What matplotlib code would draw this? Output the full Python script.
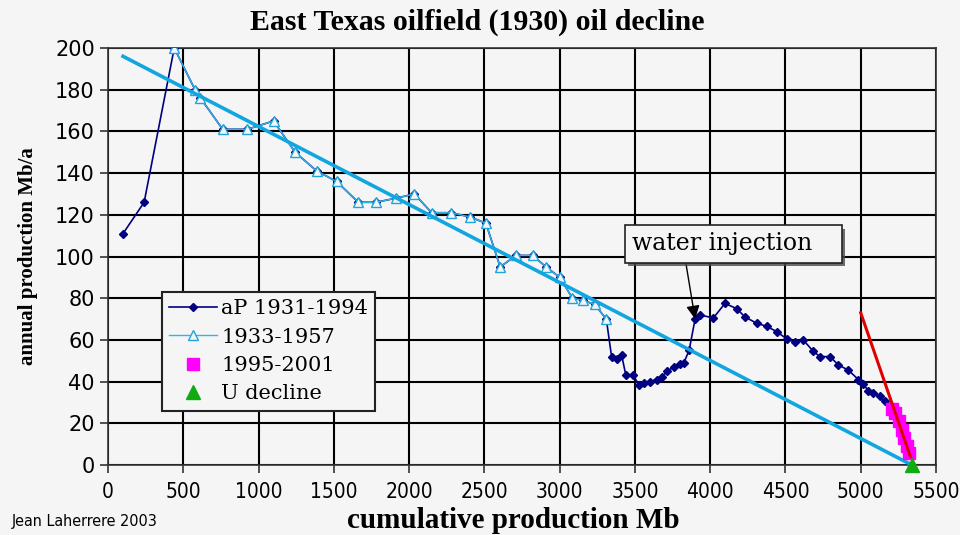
import matplotlib
matplotlib.use("Agg")
import matplotlib.pyplot as plt
import matplotlib.patheffects as pe

# cumulative production (Mb) and annual production (Mb/a)
early_x = [100, 240]
early_y = [111, 126]

x_33_57 = [440, 578, 614, 762, 925, 1100, 1243, 1387, 1518, 1663, 1780, 1915, 2035,
           2150, 2280, 2403, 2510, 2605, 2710, 2820, 2910, 3001, 3085, 3155, 3233, 3310]
y_33_57 = [200, 180, 176, 161, 161, 165, 150, 141, 136, 126, 126, 128, 130,
           121, 121, 119, 116, 95, 100.5, 100.5, 95, 90, 80, 79, 77, 70]

late_x = [3345, 3380, 3411, 3440, 3490, 3525, 3560, 3600, 3645, 3680, 3712, 3760, 3800,
          3825, 3860, 3900, 3932, 4021, 4098, 4176, 4231, 4309, 4375, 4442, 4508, 4563,
          4618, 4685, 4729, 4796, 4851, 4918, 4984, 5017, 5050, 5084, 5128, 5161, 5194]
late_y = [52, 51, 53, 43, 43, 38.5, 39.5, 40, 41, 42, 45, 47, 48.5,
          49, 55, 70, 72, 70.5, 77.5, 75, 71, 68, 66.5, 64, 60.5, 59,
          60, 54.5, 52, 52, 48, 45.5, 41, 39, 35.5, 34.5, 33, 30.5, 28]

x_95_01 = [5205, 5230, 5252, 5272, 5290, 5305, 5320]
y_95_01 = [27, 25, 21, 17, 13, 9, 6]

u_x = [5340]
u_y = [0]

trend_x = [100, 5340]
trend_y = [196, 0]

recent_x = [5000, 5330]
recent_y = [73, 4]

ap_x = early_x + x_33_57 + late_x
ap_y = early_y + y_33_57 + late_y

bg = '#f5f5f5'
narrow = dict(family='DejaVu Sans', fontstretch='condensed')

fig = plt.figure(figsize=(9.6, 5.35), dpi=100, facecolor=bg)
ax = fig.add_axes([0.1125, 0.1308, 0.8625, 0.7795], facecolor=bg)

ax.plot(ap_x, ap_y, '-', color='#000080', lw=1.2, marker='D', ms=4,
        label='aP 1931-1994', zorder=3)
ax.plot(x_33_57, y_33_57, '-', color='#33b5e5', lw=1.0, marker='^', ms=7,
        mfc=bg, mec='#1fa5dd', label='1933-1957', zorder=4)
ax.plot(trend_x, trend_y, '-', color='#12a6e0', lw=2.6, zorder=5)
ax.plot(recent_x, recent_y, '-', color='#e00000', lw=2.2, zorder=6)
ax.plot(x_95_01, y_95_01, 's', color='#ff00ff', ms=8, ls='none',
        label='1995-2001', zorder=5)
ax.plot(u_x, u_y, '^', color='#11aa11', ms=10, ls='none',
        label='U decline', zorder=7, clip_on=False)

ax.set_xlim(0, 5500)
ax.set_ylim(0, 200)
ax.set_xticks(range(0, 5501, 500))
ax.set_yticks(range(0, 201, 20))
ax.grid(True, color='black', lw=1.5)
ax.set_axisbelow(True)
for s in ax.spines.values():
    s.set_color('#333333')
    s.set_linewidth(1.2)
ax.tick_params(length=6, width=1.2, color='#333333')
ax.tick_params(axis='x', pad=6)
for lab in ax.get_xticklabels():
    lab.set(**narrow)
    lab.set_fontsize(15)
for lab in ax.get_yticklabels():
    lab.set_family('DejaVu Sans')
    lab.set_fontsize(15)

fig.text(0.497, 0.958, 'East Texas oilfield (1930) oil decline', family='Liberation Serif',
         fontweight='bold', fontsize=21.5, ha='center', va='center')
ax.set_ylabel('annual production Mb/a', family='Liberation Serif',
              fontweight='bold', fontsize=15, labelpad=12)
fig.text(0.535, 0.013, 'cumulative production Mb', family='Liberation Serif',
         fontweight='bold', fontsize=21, ha='center', va='baseline')
fig.text(0.012, 0.016, 'Jean Laherrere 2003', fontsize=11.5, va='baseline', **narrow)

leg = ax.legend(loc='upper left', bbox_to_anchor=(0.065, 0.415), frameon=True,
                fancybox=False, edgecolor='#222222', facecolor=bg, framealpha=1,
                prop={'family': 'DejaVu Serif', 'size': 15}, handlelength=2.3,
                handletextpad=0.2, borderpad=0.35, labelspacing=0.45, borderaxespad=0)
leg.get_frame().set_linewidth(1.5)

ann = ax.annotate('water injection   ', xy=(3900, 70), xytext=(3480, 106),
                  family='DejaVu Serif', fontsize=17, va='center', ha='left',
                  bbox=dict(boxstyle='square,pad=0.3', fc=bg, ec='#222222', lw=1.2),
                  arrowprops=dict(arrowstyle='-|>', color='black', lw=1,
                                  mutation_scale=20, shrinkA=0, shrinkB=0,
                                  relpos=(0.26, 0)),
                  zorder=8)
ann.get_bbox_patch().set_path_effects([pe.SimplePatchShadow(offset=(2.5, -2.5), alpha=0.8),
                                       pe.Normal()])

fig.savefig('out.png', dpi=100, facecolor=bg)
